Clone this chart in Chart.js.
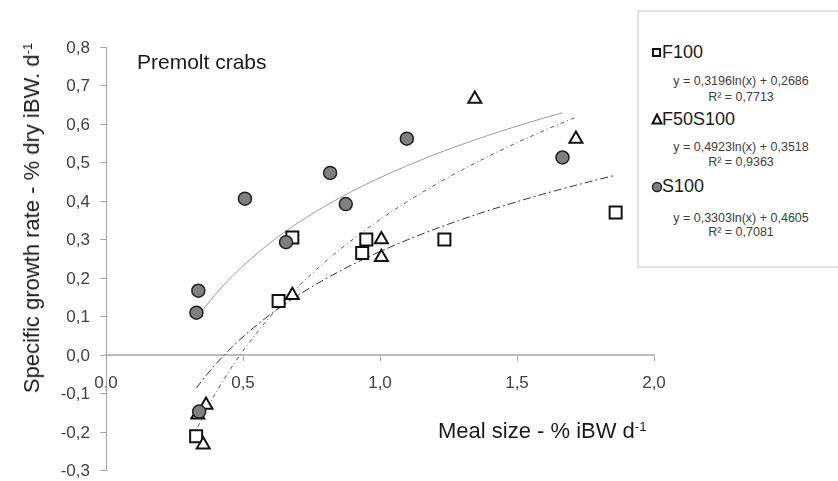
<!DOCTYPE html>
<html lang="pt-BR">
<head>
<meta charset="utf-8">
<title>Premolt crabs</title>
<script src="https://cdn.jsdelivr.net/npm/chart.js@4.4.1/dist/chart.umd.min.js"></script>
<style>
  body { margin: 0; background: #fff; }
  #wrap {
    position: relative; width: 838px; height: 481px; overflow: hidden;
    font-family: 'Liberation Sans', Arial, sans-serif;
  }
  #grafico { position: absolute; left: 0; top: 0; }
  .txt { position: absolute; white-space: nowrap; line-height: 1; color: #1a1a1a; }
  .sup { font-size: 0.6em; position: relative; top: -0.55em; }
  #legenda {
    position: absolute; left: 637px; top: 10px; width: 215px; height: 258px;
    box-sizing: border-box; border: 2px solid #e2e2da; background: #fff;
  }
  .eq { position: absolute; left: 641px; width: 200px; text-align: center; font-size: 12.5px; color: #404040; }
  .serie { font-size: 18px; }
</style>
</head>
<body>
<div id="wrap">
  <canvas id="grafico" width="838" height="481"></canvas>

  <div class="txt" style="left:137px; top:51px; font-size:21px;">Premolt crabs</div>
  <div class="txt" style="left:438px; top:420px; font-size:22px;">Meal size - % iBW d<span class="sup">-1</span></div>
  <div class="txt" style="left:32px; top:218px; font-size:22px; transform:translate(-50%,-50%) rotate(-90deg);">Specific growth rate - % dry iBW. d<span class="sup">-1</span></div>

  <div id="legenda"></div>
  <div style="position:absolute; left:652px; top:48px; width:9px; height:9px; box-sizing:border-box; border:2px solid #111; background:#fff;"></div>
  <div class="txt serie" style="left:662px; top:43px;">F100</div>
  <div class="txt eq" style="top:75px;">y = 0,3196ln(x) + 0,2686</div>
  <div class="txt eq" style="top:91px;">R² = 0,7713</div>

  <svg style="position:absolute; left:651px; top:113px;" width="12" height="12">
    <polygon points="6,1.5 10.5,10.5 1.5,10.5" fill="#fff" stroke="#111" stroke-width="2"/>
  </svg>
  <div class="txt serie" style="left:662px; top:110px;">F50S100</div>
  <div class="txt eq" style="top:141px;">y = 0,4923ln(x) + 0,3518</div>
  <div class="txt eq" style="top:156px;">R² = 0,9363</div>

  <svg style="position:absolute; left:651px; top:181px;" width="12" height="12">
    <circle cx="6" cy="6" r="4.5" fill="#7f7f7f" stroke="#222" stroke-width="1.5"/>
  </svg>
  <div class="txt serie" style="left:662px; top:177px;">S100</div>
  <div class="txt eq" style="top:212px;">y = 0,3303ln(x) + 0,4605</div>
  <div class="txt eq" style="top:226px;">R² = 0,7081</div>
</div>

<script>
  const FONTE = "'Liberation Sans', Arial, sans-serif";

  // Tamanho da refeição (% iBW d-1) e taxa de crescimento específico de cada dieta
  const f100X = [0.329, 0.63, 0.68, 0.935, 0.95, 1.235, 1.86];
  const f100Y = [-0.211, 0.14, 0.305, 0.265, 0.30, 0.30, 0.37];

  const f50s100X = [0.335, 0.355, 0.365, 0.68, 1.005, 1.005, 1.346, 1.715];
  const f50s100Y = [-0.155, -0.233, -0.13, 0.155, 0.254, 0.30, 0.665, 0.561];

  const s100X = [0.33, 0.337, 0.34, 0.507, 0.657, 0.818, 0.875, 1.098, 1.666];
  const s100Y = [0.11, 0.167, -0.147, 0.406, 0.293, 0.473, 0.392, 0.562, 0.513];

  // Regressões logarítmicas y = a ln(x) + b
  const f100Reg = [0.3196, 0.2686];
  const f50s100Reg = [0.4923, 0.3518];
  const s100Reg = [0.3303, 0.4605];

  // Marcas dos eixos
  const ticksX = [0, 0.5, 1.0, 1.5, 2.0];
  const ticksY = [-0.3, -0.2, -0.1, 0, 0.1, 0.2, 0.3, 0.4, 0.5, 0.6, 0.7, 0.8];

  function pontos(xs, ys) {
    return xs.map((x, i) => ({ x: x, y: ys[i] }));
  }

  // Curva de tendência entre o menor e o maior valor de x da série
  function curvaLog(reg, xs) {
    const x0 = Math.min(...xs);
    const x1 = Math.max(...xs);
    const n = 80;
    const dados = [];
    for (let i = 0; i <= n; i++) {
      const x = x0 + (x1 - x0) * i / n;
      dados.push({ x: x, y: reg[0] * Math.log(x) + reg[1] });
    }
    return dados;
  }

  function formatar(v) {
    return Number(v).toFixed(1).replace('.', ',');
  }

  function serieMarcas(dados, estilo, raio, fundo, borda, larguraBorda, ordem) {
    return {
      data: dados,
      pointStyle: estilo,
      pointRadius: raio,
      pointBackgroundColor: fundo,
      pointBorderColor: borda,
      pointBorderWidth: larguraBorda,
      showLine: false,
      order: ordem
    };
  }

  function serieLinha(dados, cor, traco) {
    return {
      type: 'line',
      data: dados,
      borderColor: cor,
      borderWidth: 1,
      borderDash: traco,
      pointRadius: 0,
      fill: false,
      tension: 0,
      order: 10
    };
  }

  const ctx = document.getElementById('grafico').getContext('2d');

  new Chart(ctx, {
    type: 'scatter',
    data: {
      datasets: [
        serieMarcas(pontos(s100X, s100Y), 'circle', 6.5, '#7f7f7f', '#222', 1.5, 1),
        serieMarcas(pontos(f50s100X, f50s100Y), 'triangle', 7.5, '#fff', '#111', 2, 2),
        serieMarcas(pontos(f100X, f100Y), 'rect', 8.5, '#fff', '#111', 2, 3),
        serieLinha(curvaLog(s100Reg, s100X), '#9a9a9a', []),
        serieLinha(curvaLog(f50s100Reg, f50s100X), '#555', [4, 3, 1, 3]),
        serieLinha(curvaLog(f100Reg, f100X), '#333', [8, 3, 2, 3])
      ]
    },
    options: {
      responsive: false,
      animation: false,
      layout: {
        padding: { left: 0, top: 47, right: 184, bottom: 7 }
      },
      plugins: {
        legend: { display: false },
        tooltip: { enabled: false }
      },
      scales: {
        x: {
          type: 'linear',
          min: 0,
          max: 2,
          position: { y: 0 },
          afterBuildTicks: axis => { axis.ticks = ticksX.map(v => ({ value: v })); },
          afterFit: axis => { axis.paddingLeft = 0; axis.paddingRight = 0; },
          ticks: {
            callback: formatar,
            color: '#404040',
            font: { family: FONTE, size: 17 },
            padding: 13,
            maxRotation: 0
          },
          grid: { drawOnChartArea: false, color: '#a6a6a6', tickLength: 5 },
          border: { color: '#bdbdbd', width: 2 }
        },
        y: {
          type: 'linear',
          min: -0.3,
          max: 0.8,
          afterBuildTicks: axis => { axis.ticks = ticksY.map(v => ({ value: v })); },
          afterFit: axis => {
            axis.width = 106;
            axis.paddingTop = 0;
            axis.paddingBottom = 0;
          },
          ticks: {
            callback: formatar,
            color: '#404040',
            font: { family: FONTE, size: 17 },
            padding: 10,
            labelOffset: 1
          },
          grid: { drawOnChartArea: false, color: '#a6a6a6', tickLength: 6 },
          border: { color: '#a6a6a6', width: 1 }
        }
      }
    }
  });
</script>
</body>
</html>
